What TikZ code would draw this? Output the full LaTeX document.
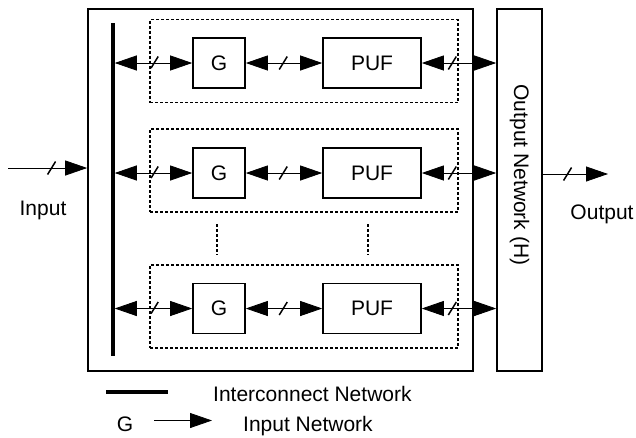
\documentclass[tikz,border=0pt]{standalone}
\usepackage{fontspec}
\setmainfont{Liberation Sans}
\usetikzlibrary{arrows.meta}
\begin{document}
\begin{tikzpicture}[x=1pt,y=-1pt,
  every node/.style={font=\fontsize{21pt}{24pt}\selectfont},
  frame/.style={draw,line width=1.6pt,inner sep=0pt},
  blk/.style={frame,minimum height=50pt},
  group/.style={draw,line width=1.2pt,dash pattern=on 3pt off 2pt,inner sep=0pt,minimum width=308pt,minimum height=83pt},
  dbl/.style={line width=0.8pt,{Triangle[length=22pt,width=15pt]}-{Triangle[length=22pt,width=15pt]}},
  sgl/.style={line width=0.8pt,-{Triangle[length=22pt,width=15pt]}},
  bus/.pic={\draw[line width=1.5pt,-,solid] (-4,6.5) -- (4,-6.5);},
  vdots/.style={line width=1.2pt,dash pattern=on 3pt off 2pt}
]
\useasboundingbox (0,0) rectangle (636,437);

% main enclosure and output network
\node[frame,minimum width=385pt,minimum height=362pt] (outer) at (280.5,190) {};
\node[frame,minimum width=45pt,minimum height=362pt] (hbox) at (519.5,190) {};
\node[rotate=-90] (hlabel) at (519.5,175) {Output Network (H)};

% interconnect bus
\coordinate (bartop) at (113,23);
\coordinate (barbot) at (113,356);
\draw[line width=3.5pt] (bartop) -- (barbot);

% dashed groups
\node[group] (grp1) at (304,61) {};
\node[group] (grp2) at (304,170.5) {};
\node[group] (grp3) at (304,306.5) {};

% G and PUF blocks
\foreach \i/\y in {1/63,2/173,3/308.5}{
  \node[blk,minimum width=52pt] (g\i) at (219,\y) {G};
  \node[blk,minimum width=98pt] (p\i) at (372,\y) {PUF};
  \draw[dbl,shorten <=1.75pt] (g\i.west -| bartop) -- (g\i.west) pic[pos=.52]{bus};
  \draw[dbl] (g\i.east) -- (p\i.west) pic[pos=.49]{bus};
  \draw[dbl] (p\i.east) -- (p\i.east -| hbox.west) pic[pos=.41]{bus};
}

% continuation dots
\coordinate (da1) at (217,224);
\coordinate (da2) at (217,255);
\coordinate (db1) at (368,224);
\coordinate (db2) at (368,255);
\draw[vdots] (da1) -- (da2);
\draw[vdots] (db1) -- (db2);

% input and output
\coordinate (inbeg) at (8,168);
\draw[sgl] (inbeg) -- (inbeg -| outer.west) pic[pos=.55]{bus};
\coordinate (outend) at (608,174);
\draw[sgl] (hbox.east |- outend) -- (outend) pic[pos=.38]{bus};
\node[anchor=base] (inlabel) at (43,215.5) {Input};
\node[anchor=base] (outlabel) at (602,219) {Output};

% legend
\coordinate (l1a) at (106,392);
\coordinate (l1b) at (168,392);
\draw[line width=4pt] (l1a) -- (l1b);
\node[anchor=base west,inner sep=0pt] (leg1) at (213,401) {Interconnect Network};
\node[anchor=base,inner sep=0pt] (legg) at (125,431) {G};
\coordinate (l2a) at (154,420.5);
\coordinate (l2b) at (212,420.5);
\draw[sgl] (l2a) -- (l2b);
\node[anchor=base west,inner sep=0pt] (leg2) at (243,431) {Input Network};
\end{tikzpicture}
\end{document}
